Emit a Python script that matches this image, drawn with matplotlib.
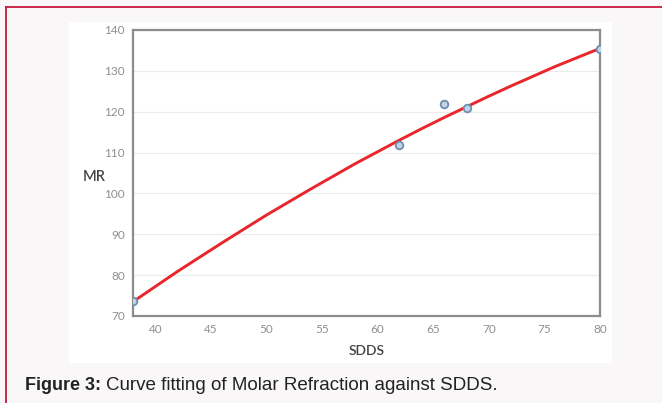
import numpy as np
import matplotlib
matplotlib.use("Agg")
import matplotlib.pyplot as plt
from matplotlib.patches import Rectangle
from matplotlib.lines import Line2D

# measured points
sdds = [38.0, 61.9, 66.0, 68.0, 80.0]
mr = [73.6, 111.8, 121.8, 120.9, 135.4]

# fitted curve
fit_x = [38, 40, 42, 44, 46, 48, 50, 52, 54, 56, 58, 60,
         62, 64, 66, 68, 70, 72, 74, 76, 78, 80]
fit_y = [73.5, 77.2, 80.9, 84.4, 87.9, 91.3, 94.7, 97.9, 101.1, 104.2, 107.3, 110.2,
         113.1, 115.9, 118.6, 121.2, 123.8, 126.3, 128.7, 131.1, 133.3, 135.5]

xticks = [40, 45, 50, 55, 60, 65, 70, 75, 80]
yticks = [70, 80, 90, 100, 110, 120, 130, 140]

W, H = 662, 403
fig = plt.figure(figsize=(W / 100, H / 100), dpi=100)
fig.patch.set_facecolor("#f9f7f8")

# white panel behind the chart
fig.add_artist(Rectangle((69 / W, 1 - 363 / H), 543 / W, 341 / H,
                         transform=fig.transFigure, facecolor="white",
                         edgecolor="none", zorder=0))
# crimson frame (top and left)
bc = "#c4183f"
fig.add_artist(Line2D([6 / W, 1], [1 - 7 / H, 1 - 7 / H], transform=fig.transFigure,
                      color=bc, lw=1.3))
fig.add_artist(Line2D([6 / W, 6 / W], [0, 1 - 7 / H], transform=fig.transFigure,
                      color=bc, lw=1.3))

ax = fig.add_axes([133 / W, 1 - 316 / H, 467 / W, 286 / H])
ax.set_facecolor("white")
ax.plot(fit_x, fit_y, color="#e8262b", lw=2.1, zorder=3)
ax.scatter(sdds, mr, s=30, facecolor="#c2d4e3", edgecolor="#6d8eae", lw=1.3, zorder=4)

ax.set_xlim(38, 80)
ax.set_ylim(70, 140)
ax.set_xticks(xticks)
ax.set_yticks(yticks)
ax.grid(axis="y", color="#ececec", lw=0.9)
ax.set_axisbelow(True)
for s in ax.spines.values():
    s.set_color("#8c8c8c")
    s.set_linewidth(1.6)
ax.tick_params(length=0, labelsize=8.5, labelcolor="#8f8f8f", pad=6)
for lab in ax.get_xticklabels() + ax.get_yticklabels():
    lab.set_family("Lato")

ax.set_xlabel("SDDS", fontsize=10, color="#444444", family="Lato",
              fontweight="semibold", labelpad=7)
ax.set_ylabel("MR", fontsize=10.5, color="#444444", family="Lato",
              fontweight="semibold", rotation=0)
ax.yaxis.set_label_coords(-0.082, 0.46)

fig.canvas.draw()
r = fig.canvas.get_renderer()
t1 = fig.text(25 / W, 1 - 386 / H, "Figure 3:", fontsize=13, fontweight="bold",
              family="Liberation Sans", color="#222222", va="center")
bb = t1.get_window_extent(renderer=r)
fig.text((bb.x1 + 5) / W, 1 - 386 / H, "Curve fitting of Molar Refraction against SDDS.",
         fontsize=13.5, family="Liberation Sans", color="#222222", va="center")

fig.savefig("out.png", dpi=100, facecolor=fig.get_facecolor())
